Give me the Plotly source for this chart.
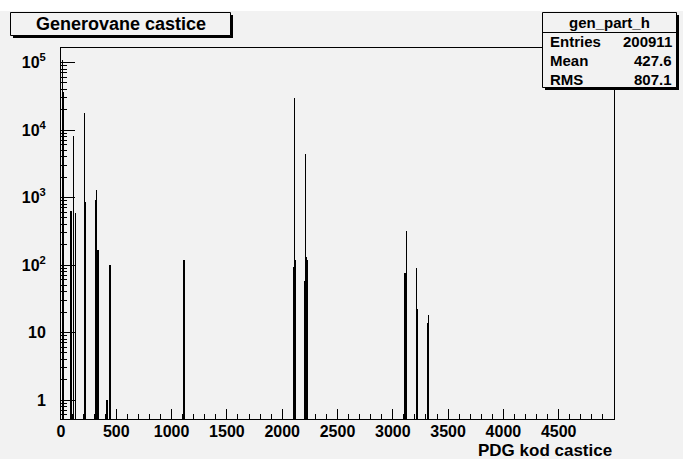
import plotly.graph_objects as go

# ---------------- data ----------------
pdg_codes = [11, 13, 22, 92, 111, 113, 130, 211, 213, 221, 223,
             310, 311, 313, 321, 323, 331, 333, 411, 421, 443, 1114,
             2101, 2103, 2112, 2114, 2203, 2212, 2214, 2224,
             3112, 3122, 3212, 3214, 3222, 3224, 3312, 3322]
counts = [110000, 3000, 36000, 630, 8100, 940, 580, 17600, 850, 850, 850,
          590, 590, 910, 1290, 910, 166, 166, 1, 1, 100, 117,
          94, 94, 29900, 119, 58, 4340, 130, 120,
          77, 316, 87, 89, 22, 22, 14, 18]

x_tick_vals = [0, 500, 1000, 1500, 2000, 2500, 3000, 3500, 4000, 4500]
y_tick_vals = [1, 10, 100, 1000, 10000, 100000]
y_tick_text = ["1", "10", "10<sup>2</sup>", "10<sup>3</sup>", "10<sup>4</sup>", "10<sup>5</sup>"]

title_text = "Generovane castice"
x_title = "PDG kod castice"
stats_name = "gen_part_h"
stats_labels = ["Entries", "Mean", "RMS"]
stats_values = ["200911", "427.6", "807.1"]

# ---------------- layout geometry (pixels) ----------------
W, H = 683, 459
L, R, T, B = 61, 69, 48, 40
PW, PH = W - L - R, H - T - B
BG = "#f2f2f2"
FONT = "Liberation Sans, Arial, Helvetica, sans-serif"


def px(xp):
    return (xp - L) / PW


def py(yp):
    return (H - B - yp) / PH


fig = go.Figure()
fig.add_trace(go.Bar(
    x=pdg_codes, y=counts, width=[4] * len(pdg_codes),
    marker=dict(color="black", line=dict(width=0)),
    showlegend=False, hoverinfo="x+y",
))

minor_y = [m * 10 ** e for e in range(-1, 6) for m in range(2, 10)]
minor_y = [v for v in minor_y if 0.52 < v < 1.6e5]

fig.update_layout(
    width=W, height=H,
    margin=dict(l=L, r=R, t=T, b=B, pad=0),
    paper_bgcolor=BG, plot_bgcolor=BG,
    bargap=0,
    font=dict(family=FONT, color="black"),
    xaxis=dict(
        range=[0, 5000], showgrid=False, zeroline=False,
        showline=True, linecolor="black", linewidth=1, mirror=True,
        tickmode="array", tickvals=x_tick_vals,
        ticks="inside", ticklen=10, tickcolor="black", tickwidth=1,
        tickfont=dict(family=FONT, size=16, weight="bold"),
        ticklabelstandoff=-2,
        minor=dict(ticks="inside", ticklen=5, dtick=100, tick0=0,
                   tickcolor="black", tickwidth=1, showgrid=False),
    ),
    yaxis=dict(
        type="log", range=[-0.2815, 5.215], showgrid=False, zeroline=False,
        showline=True, linecolor="black", linewidth=1, mirror=True,
        tickmode="array", tickvals=y_tick_vals, ticktext=y_tick_text,
        ticks="inside", ticklen=14, tickcolor="black", tickwidth=1,
        tickfont=dict(family=FONT, size=16, weight="bold"),
        ticklabelstandoff=11,
        minor=dict(ticks="inside", ticklen=6, tickvals=minor_y,
                   tickcolor="black", tickwidth=1, showgrid=False),
    ),
)

shapes = []
# white strip at top of canvas
shapes.append(dict(type="rect", xref="paper", yref="paper",
                   x0=px(0), x1=px(W), y0=py(11), y1=py(0),
                   fillcolor="white", line=dict(width=0), layer="below"))


def pave(x0, y0, x1, y1):
    # shadow + box
    shapes.append(dict(type="rect", xref="paper", yref="paper",
                       x0=px(x0 + 2.5), x1=px(x1 + 2.5), y0=py(y1 + 2.5), y1=py(y0 + 2.5),
                       fillcolor="black", line=dict(width=0)))
    shapes.append(dict(type="rect", xref="paper", yref="paper",
                       x0=px(x0), x1=px(x1), y0=py(y1), y1=py(y0),
                       fillcolor=BG, line=dict(color="black", width=1)))


pave(10.5, 12.5, 230.5, 35.5)
pave(542.5, 12.5, 676.5, 87.5)
shapes.append(dict(type="line", xref="paper", yref="paper",
                   x0=px(542.5), x1=px(676.5), y0=py(32.5), y1=py(32.5),
                   line=dict(color="black", width=1)))
fig.update_layout(shapes=shapes)

ann = []
ann.append(dict(text="<b>%s</b>" % title_text, x=px(120.5), y=py(24), xref="paper", yref="paper",
                xanchor="center", yanchor="middle", showarrow=False,
                font=dict(family=FONT, size=18, color="black")))
ann.append(dict(text="<b>%s</b>" % x_title, x=px(614), y=py(450), xref="paper", yref="paper",
                xanchor="right", yanchor="middle", showarrow=False,
                font=dict(family=FONT, size=17, color="black")))
ann.append(dict(text="<b>%s</b>" % stats_name, x=px(609.5), y=py(22), xref="paper", yref="paper",
                xanchor="center", yanchor="middle", showarrow=False,
                font=dict(family=FONT, size=15, color="black")))
row_y = [41, 60, 79]
for lab, val, yy in zip(stats_labels, stats_values, row_y):
    ann.append(dict(text="<b>%s</b>" % lab, x=px(548), y=py(yy), xref="paper", yref="paper",
                    xanchor="left", yanchor="middle", showarrow=False,
                    font=dict(family=FONT, size=15, color="black")))
    ann.append(dict(text="<b>%s</b>" % val, x=px(674), y=py(yy), xref="paper", yref="paper",
                    xanchor="right", yanchor="middle", showarrow=False,
                    font=dict(family=FONT, size=15, color="black")))
fig.update_layout(annotations=ann)

fig.write_html("out.html")
